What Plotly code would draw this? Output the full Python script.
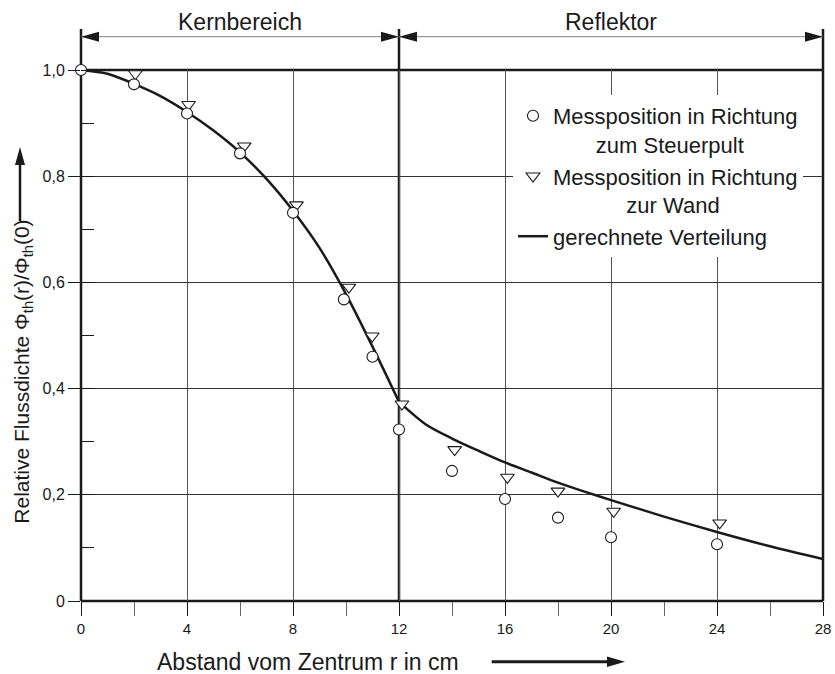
import plotly.graph_objects as go

# ---------------- data ----------------
calc_r_core = [0, 1, 2, 3, 4, 5, 6, 7, 8, 9, 10, 11, 12]
calc_phi_core = [1.0, 0.993, 0.974, 0.951, 0.921, 0.886, 0.845, 0.795, 0.735, 0.665, 0.578, 0.479, 0.375]
calc_r_refl = [12, 13, 14, 15, 16, 17, 18, 19, 20, 22, 24, 26, 28]
calc_phi_refl = [0.375, 0.333, 0.306, 0.283, 0.261, 0.242, 0.223, 0.206, 0.190, 0.159, 0.130, 0.103, 0.079]

steuer_r = [0, 2, 4, 6, 8, 9.92, 11.0, 12.0, 14, 16, 18, 20, 24]
steuer_phi = [1.0, 0.973, 0.918, 0.843, 0.731, 0.568, 0.460, 0.323, 0.245, 0.192, 0.157, 0.120, 0.107]

wand_r = [2.05, 4.06, 6.16, 8.13, 10.11, 10.99, 12.11, 14.1, 16.09, 18.0, 20.1, 24.1]
wand_phi = [0.993, 0.935, 0.857, 0.746, 0.591, 0.499, 0.371, 0.285, 0.233, 0.207, 0.169, 0.147]

x_tickvals = [0, 4, 8, 12, 16, 20, 24, 28]
x_ticktext = ["0", "4", "8", "12", "16", "20", "24", "28"]
y_tickvals = [0, 0.2, 0.4, 0.6, 0.8, 1.0]
y_ticktext = ["0", "0,2", "0,4", "0,6", "0,8", "1,0"]

region_bounds = [0, 12, 28]
region_names = ["Kernbereich", "Reflektor"]

NBSP = "\u00a0"
legend_names = [
    "Messposition in Richtung<br>" + NBSP * 7 + "zum Steuerpult",
    "Messposition in Richtung<br>" + NBSP * 12 + "zur Wand",
    "gerechnete Verteilung",
]

# ---------------- layout geometry ----------------
W, H = 835, 674
ML, MR, MT, MB = 81, 12, 70, 73
PW, PH = W - ML - MR, H - MT - MB
X_RANGE = [0, 28]
Y_RANGE = [0, 1.0]
FONT = "Liberation Sans, Arial, sans-serif"
INK = "#1a1a1a"


def xfrac(v):
    return (v - X_RANGE[0]) / (X_RANGE[1] - X_RANGE[0])


def px(pix):  # page pixel x -> paper
    return (pix - ML) / PW


def py(pix):  # page pixel y -> paper
    return (H - MB - pix) / PH


fig = go.Figure()

# calculated distribution (core + reflector)
fig.add_trace(go.Scatter(
    x=calc_r_core, y=calc_phi_core, mode="lines", name=legend_names[2],
    line=dict(color=INK, width=2.5, shape="spline", smoothing=0.8),
    legendgroup="c", legendrank=3, showlegend=True))
fig.add_trace(go.Scatter(
    x=calc_r_refl, y=calc_phi_refl, mode="lines", name=legend_names[2],
    line=dict(color=INK, width=2.5, shape="spline", smoothing=0.8),
    legendgroup="c", showlegend=False))

# measurement towards wall (triangles)
fig.add_trace(go.Scatter(
    x=wand_r, y=wand_phi, mode="markers", name=legend_names[1],
    marker=dict(symbol="triangle-down", size=12, color="white",
                line=dict(color=INK, width=1.1)),
    cliponaxis=False, legendgroup="w", legendrank=2))

# measurement towards control desk (circles)
fig.add_trace(go.Scatter(
    x=steuer_r, y=steuer_phi, mode="markers", name=legend_names[0],
    marker=dict(symbol="circle", size=11, color="white",
                line=dict(color=INK, width=1.1)),
    cliponaxis=False, legendgroup="s", legendrank=1))

shapes = []
# frame lines (left/right/x=12 extend upward above the plot)
top_ext = py(29)
for xv in region_bounds:
    shapes.append(dict(type="line", xref="paper", yref="paper",
                       x0=xfrac(xv), x1=xfrac(xv), y0=0, y1=top_ext,
                       line=dict(color=INK, width=2.5), layer="between"))
for yv in Y_RANGE:
    shapes.append(dict(type="line", xref="paper", yref="paper",
                       x0=0, x1=1, y0=yv, y1=yv,
                       line=dict(color=INK, width=2.5), layer="between"))

# dimension arrows on top
y_arr = py(36.7)
annotations = []
for i, name in enumerate(region_names):
    a, b = region_bounds[i], region_bounds[i + 1]
    shapes.append(dict(type="line", xref="paper", yref="paper",
                       x0=xfrac(a), x1=xfrac(b), y0=y_arr, y1=y_arr,
                       line=dict(color="#808080", width=1)))
    shapes.append(dict(type="path", xref="paper", yref="paper",
                       xsizemode="pixel", ysizemode="pixel",
                       xanchor=xfrac(a), yanchor=y_arr,
                       path="M0,0 L18,5 L18,-5 Z", fillcolor=INK,
                       line=dict(width=0)))
    shapes.append(dict(type="path", xref="paper", yref="paper",
                       xsizemode="pixel", ysizemode="pixel",
                       xanchor=xfrac(b), yanchor=y_arr,
                       path="M0,0 L-18,5 L-18,-5 Z", fillcolor=INK,
                       line=dict(width=0)))
    annotations.append(dict(text=name, xref="paper", yref="paper",
                            x=xfrac((a + b) / 2), y=py(22),
                            xanchor="center", yanchor="middle", showarrow=False,
                            font=dict(family=FONT, size=23, color=INK)))

# axis-title arrows
shapes.append(dict(type="line", xref="paper", yref="paper",
                   x0=px(491.7), x1=px(612), y0=py(661.7), y1=py(661.7),
                   line=dict(color=INK, width=3)))
shapes.append(dict(type="path", xref="paper", yref="paper",
                   xsizemode="pixel", ysizemode="pixel",
                   xanchor=px(625), yanchor=py(661.7),
                   path="M0,0 L-18,5.3 L-18,-5.3 Z", fillcolor=INK, line=dict(width=0)))
shapes.append(dict(type="line", xref="paper", yref="paper",
                   x0=px(20), x1=px(20), y0=py(221), y1=py(158),
                   line=dict(color=INK, width=2.5)))
shapes.append(dict(type="path", xref="paper", yref="paper",
                   xsizemode="pixel", ysizemode="pixel",
                   xanchor=px(20), yanchor=py(147),
                   path="M0,0 L-5,-18 L5,-18 Z", fillcolor=INK, line=dict(width=0)))

annotations.append(dict(text="Abstand vom Zentrum r in cm", xref="paper", yref="paper",
                        x=px(307.5), y=py(662), xanchor="center", yanchor="middle",
                        showarrow=False, font=dict(family=FONT, size=23, color=INK)))
annotations.append(dict(text="Relative Flussdichte Φ<sub>th</sub>(r)/Φ<sub>th</sub>(0)",
                        xref="paper", yref="paper", x=px(22.7), y=py(372),
                        xanchor="center", yanchor="middle", textangle=-90,
                        showarrow=False, font=dict(family=FONT, size=21, color=INK)))

fig.update_layout(
    width=W, height=H, autosize=False,
    margin=dict(l=ML, r=MR, t=MT, b=MB, pad=0, autoexpand=False),
    paper_bgcolor="white", plot_bgcolor="white",
    font=dict(family=FONT, color=INK),
    shapes=shapes, annotations=annotations,
    showlegend=True,
    legend=dict(x=px(513), y=py(95), xanchor="left", yanchor="top",
                bgcolor="white", borderwidth=0, valign="top",
                font=dict(family=FONT, size=22, color=INK),
                tracegroupgap=22, traceorder="normal"),
    xaxis=dict(range=X_RANGE, tickvals=x_tickvals, ticktext=x_ticktext,
               automargin=False, showline=False, zeroline=False,
               showgrid=True, gridcolor="#555555", gridwidth=1,
               ticks="outside", ticklen=14, tickwidth=1, tickcolor=INK,
               tickfont=dict(family=FONT, size=15, color=INK),
               minor=dict(dtick=2, tick0=0, ticks="outside", ticklen=14,
                          tickwidth=1, tickcolor="#666666", showgrid=False)),
    yaxis=dict(range=Y_RANGE, tickvals=y_tickvals, ticktext=y_ticktext,
               automargin=False, showline=False, zeroline=False,
               showgrid=True, gridcolor="#333333", gridwidth=1,
               ticks="outside", ticklen=12, tickwidth=1, tickcolor=INK,
               tickfont=dict(family=FONT, size=16, color=INK),
               minor=dict(dtick=0.1, tick0=0, ticks="inside", ticklen=13,
                          tickwidth=1, tickcolor=INK, showgrid=False)),
)

fig.write_html(
    "out.html",
    config={"responsive": False, "displayModeBar": False},
    post_script="document.body.style.margin='0px';"
                "document.documentElement.style.overflow='hidden';",
)
